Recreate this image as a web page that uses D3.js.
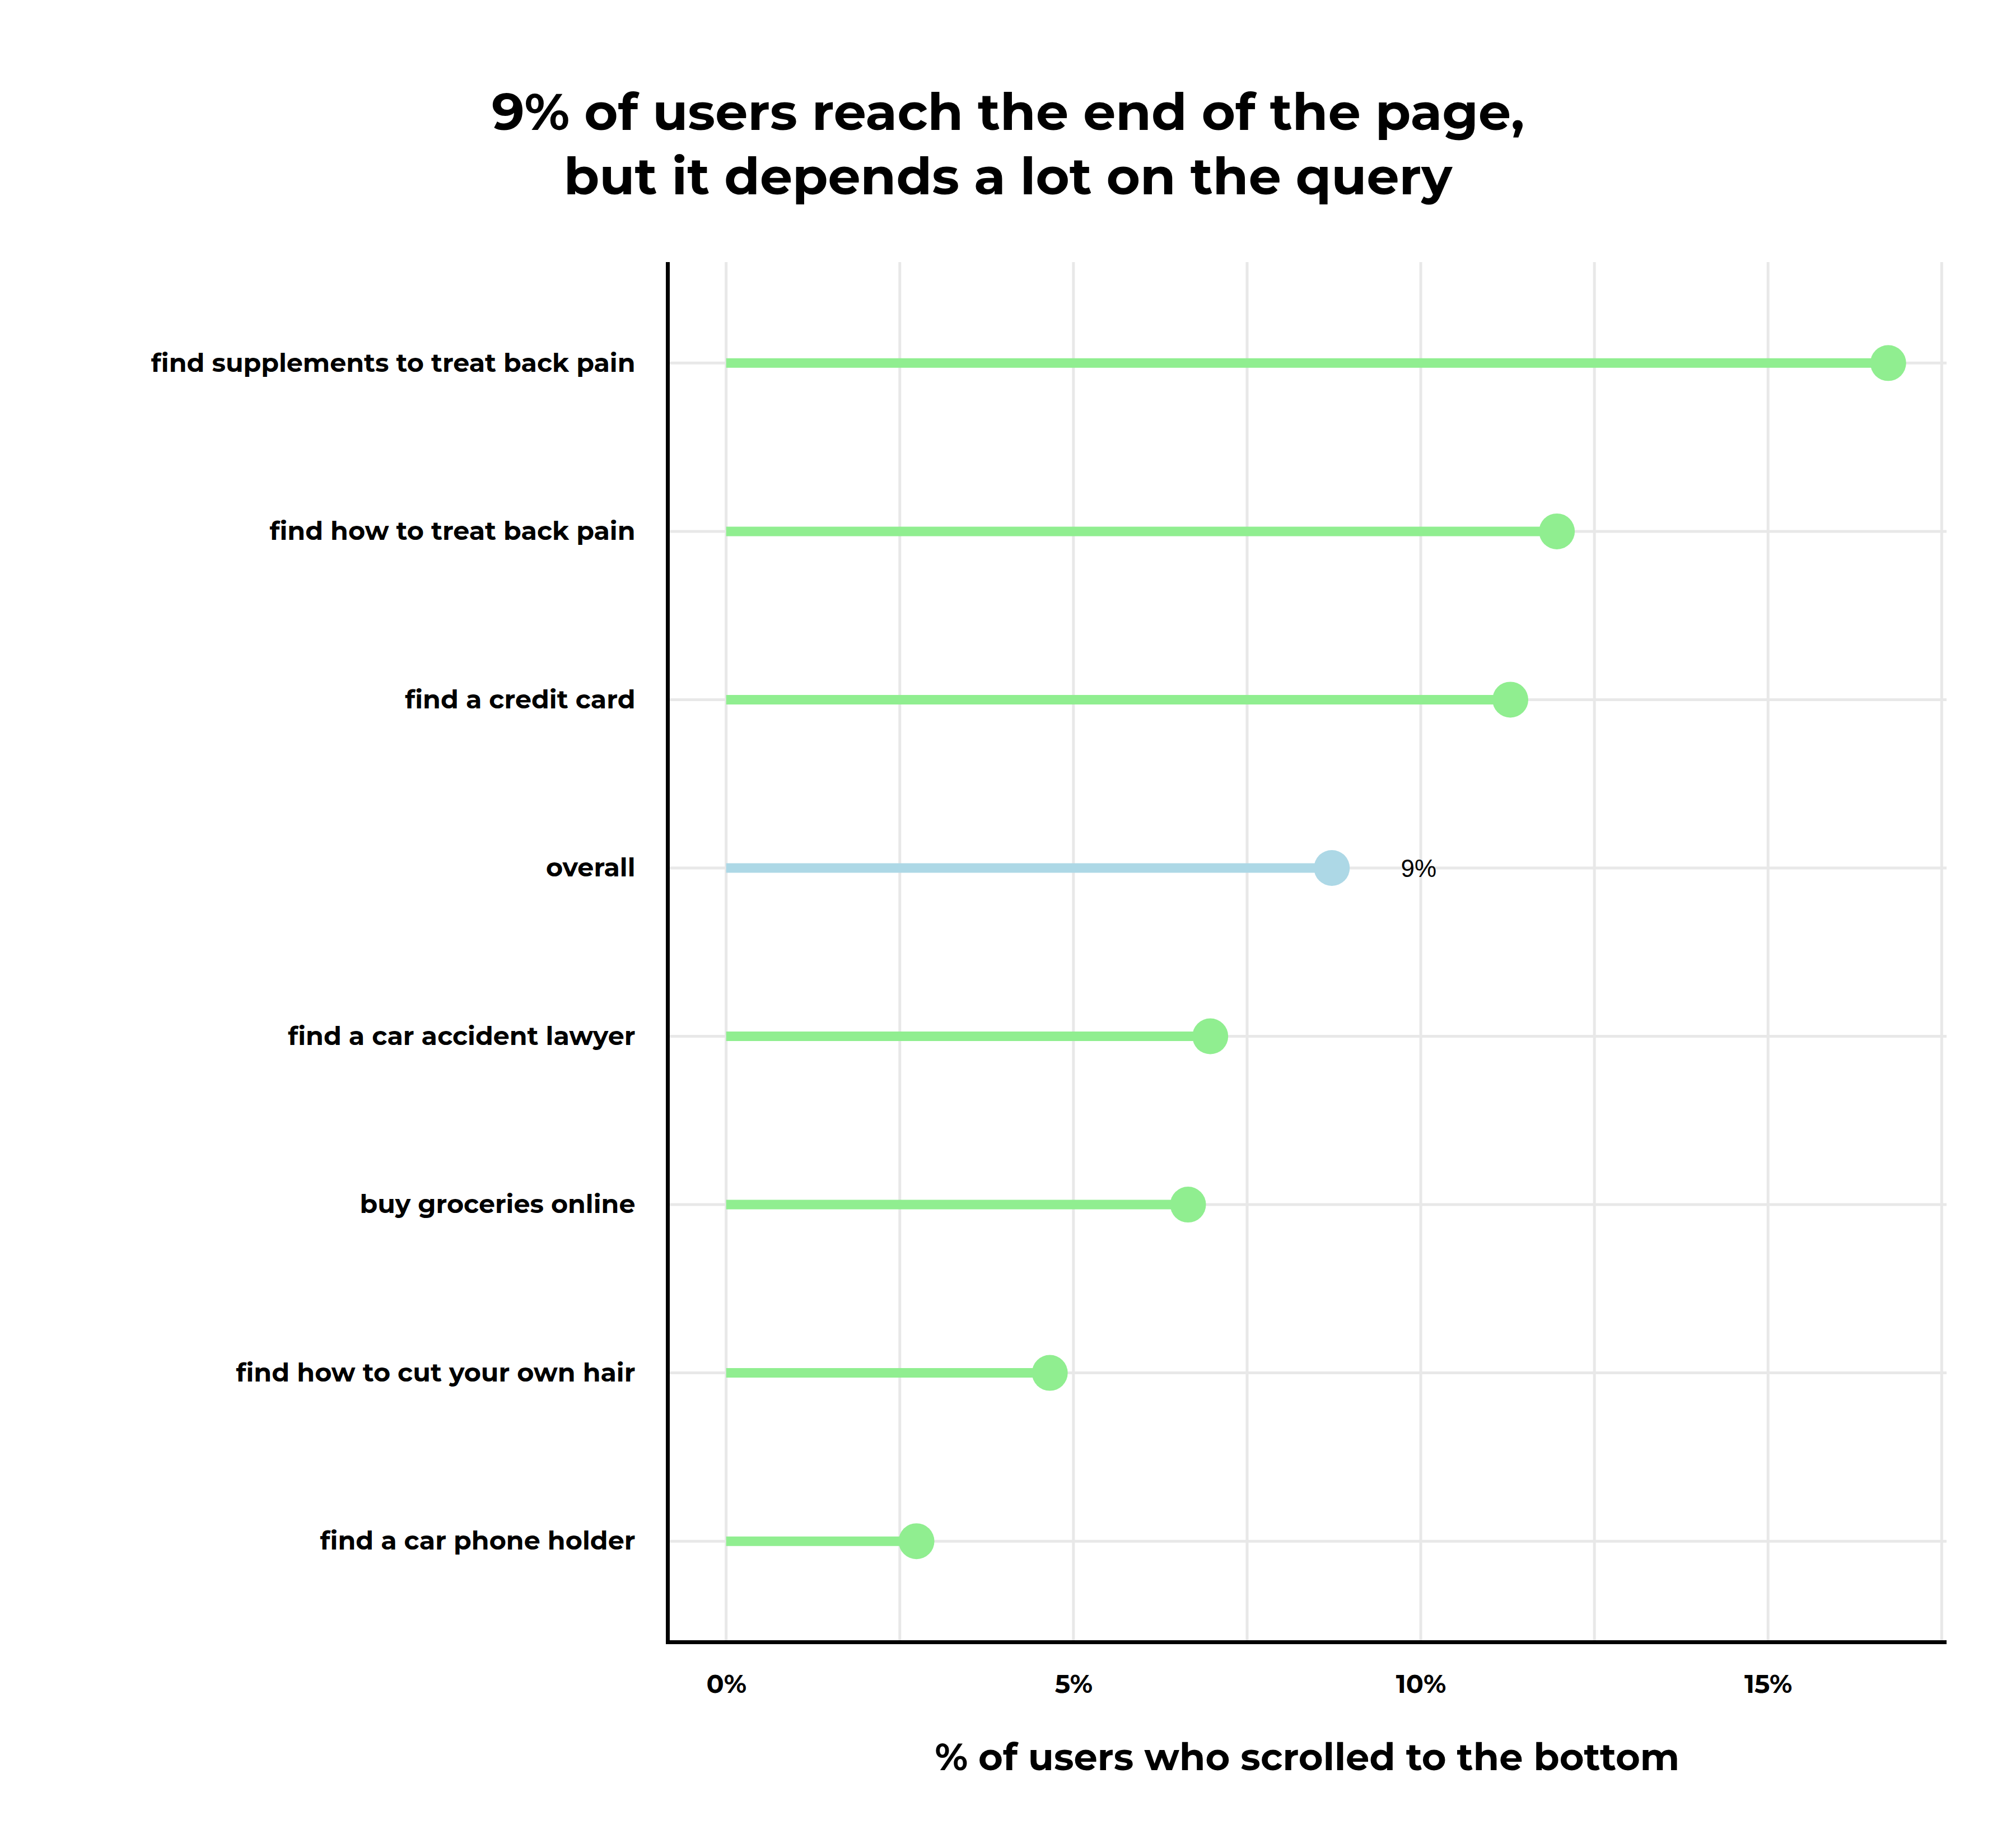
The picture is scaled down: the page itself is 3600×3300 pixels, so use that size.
<!DOCTYPE html>
<html>
<head>
<meta charset="utf-8">
<script src="https://cdn.jsdelivr.net/npm/d3@7"></script>
<style>
  body { margin: 0; background: #fff; }
  svg text { fill: #000; }
</style>
</head>
<body>
<svg id="chart"></svg>
<script>
// data
var categories = [
  "find supplements to treat back pain",
  "find how to treat back pain",
  "find a credit card",
  "overall",
  "find a car accident lawyer",
  "buy groceries online",
  "find how to cut your own hair",
  "find a car phone holder"
];
var values = [16.73, 11.96, 11.29, 8.72, 6.97, 6.65, 4.66, 2.74];
var highlight = "overall";
var highlightLabel = "9%";
var xTicks = [0, 5, 10, 15];
var gridTicks = [0, 2.5, 5, 7.5, 10, 12.5, 15, 17.5];
var titleLines = ["9% of users reach the end of the page,", "but it depends a lot on the query"];
var xTitle = "% of users who scrolled to the bottom";

var W = 3600, H = 3300;
var boldFont = "Montserrat, 'Open Sans', 'Noto Sans', sans-serif";

var data = categories.map(function(c, i) { return {cat: c, val: values[i]}; });

var svg = d3.select("#chart")
    .attr("width", W)
    .attr("height", H)
    .style("background", "#fff");

// plot area edges
var plotLeft = 1192.5, plotRight = 3476, plotTop = 468, plotBottom = 2932.5;

var x = d3.scaleLinear()
    .domain([-0.84, 17.57])
    .range([plotLeft, plotRight]);

var y = d3.scalePoint()
    .domain(categories)
    .range([plotTop, plotBottom])
    .padding(0.6);

// title
svg.append("g").selectAll("text")
    .data(titleLines)
    .enter().append("text")
    .attr("x", W / 2)
    .attr("y", function(d, i) { return 232 + i * 115; })
    .attr("text-anchor", "middle")
    .style("font-family", boldFont)
    .style("font-weight", 700)
    .style("font-size", "92px")
    .text(function(d) { return d; });

// grid
var grid = svg.append("g");
grid.selectAll(".vgrid")
    .data(gridTicks)
    .enter().append("line")
    .attr("x1", function(d) { return x(d); })
    .attr("x2", function(d) { return x(d); })
    .attr("y1", plotTop)
    .attr("y2", plotBottom)
    .attr("stroke", "#e8e8e8")
    .attr("stroke-width", 5);

grid.selectAll(".hgrid")
    .data(categories)
    .enter().append("line")
    .attr("x1", plotLeft)
    .attr("x2", plotRight)
    .attr("y1", function(d) { return y(d); })
    .attr("y2", function(d) { return y(d); })
    .attr("stroke", "#e8e8e8")
    .attr("stroke-width", 5);

// lollipops
var g = svg.append("g");
g.selectAll(".stem")
    .data(data)
    .enter().append("line")
    .attr("x1", x(0))
    .attr("x2", function(d) { return x(d.val); })
    .attr("y1", function(d) { return y(d.cat); })
    .attr("y2", function(d) { return y(d.cat); })
    .attr("stroke", function(d) { return d.cat == highlight ? "#add8e6" : "#90ee90"; })
    .attr("stroke-width", 17);

g.selectAll(".dot")
    .data(data)
    .enter().append("circle")
    .attr("cx", function(d) { return x(d.val); })
    .attr("cy", function(d) { return y(d.cat); })
    .attr("r", 32)
    .attr("fill", function(d) { return d.cat == highlight ? "#add8e6" : "#90ee90"; });

// label for overall
g.selectAll(".lab")
    .data(data.filter(function(d) { return d.cat == highlight; }))
    .enter().append("text")
    .attr("x", function(d) { return x(d.val + 1.25); })
    .attr("y", function(d) { return y(d.cat); })
    .attr("dy", "0.36em")
    .attr("text-anchor", "middle")
    .style("font-family", "'Liberation Sans', Arial, sans-serif")
    .style("font-size", "44px")
    .text(highlightLabel);

// axes
var xAxis = d3.axisBottom(x)
    .tickValues(xTicks)
    .tickSize(0)
    .tickPadding(58)
    .tickFormat(function(d) { return d + "%"; });

var gx = svg.append("g")
    .attr("transform", "translate(0," + plotBottom + ")")
    .call(xAxis);
gx.select(".domain").remove();
gx.selectAll("text")
    .style("font-family", boldFont)
    .style("font-weight", 700)
    .style("font-size", "46px");

var yAxis = d3.axisLeft(y)
    .tickSize(0)
    .tickPadding(58);

var gy = svg.append("g")
    .attr("transform", "translate(" + plotLeft + ",0)")
    .call(yAxis);
gy.select(".domain").remove();
gy.selectAll("text")
    .style("font-family", boldFont)
    .style("font-weight", 700)
    .style("font-size", "46px");

// axis lines
svg.append("line")
    .attr("x1", plotLeft).attr("x2", plotLeft)
    .attr("y1", plotTop).attr("y2", plotBottom + 3.5)
    .attr("stroke", "#000").attr("stroke-width", 7);
svg.append("line")
    .attr("x1", plotLeft - 3.5).attr("x2", plotRight)
    .attr("y1", plotBottom).attr("y2", plotBottom)
    .attr("stroke", "#000").attr("stroke-width", 7);

// x title
svg.append("text")
    .attr("x", (plotLeft + plotRight) / 2)
    .attr("y", 3161)
    .attr("text-anchor", "middle")
    .style("font-family", boldFont)
    .style("font-weight", 700)
    .style("font-size", "67px")
    .text(xTitle);
</script>
</body>
</html>
